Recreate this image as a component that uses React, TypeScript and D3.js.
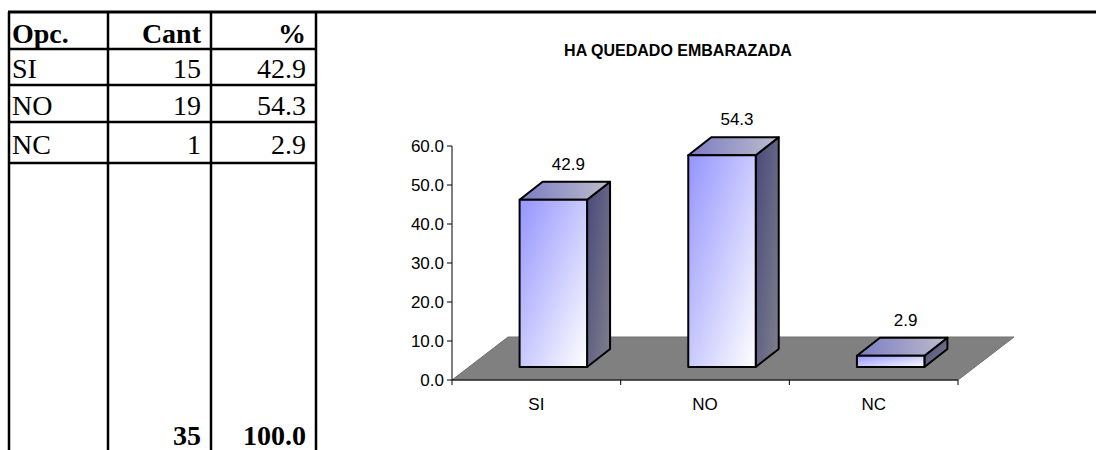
import React from 'react';
import * as d3 from 'd3';

const categories = ['SI', 'NO', 'NC'];
const counts = [15, 19, 1];
const percents = [42.9, 54.3, 2.9];
const totalCount = 35;
const totalPercent = 100.0;
const yTicks = [0, 10, 20, 30, 40, 50, 60];
const chartTitle = 'HA QUEDADO EMBARAZADA';

const W = 1096;
const H = 450;

// table geometry
const colX = [9, 108, 211, 316];
const rowY = [12, 49, 85, 122, 163];
const rowBase = [43, 78, 115, 154];

// chart geometry
const plotLeft = 452;
const plotRight = 958;
const plotBottom = 380;
const plotTop = 146;
const floorDepth = { dx: 56, dy: -43 };
const barShift = { dx: 17, dy: -13 };
const barDepth = { dx: 23, dy: -18 };

const serif = '"Liberation Serif", "Times New Roman", serif';
const sans = '"Liberation Sans", Arial, sans-serif';

export default function App() {
  const x = d3.scaleBand<string>().domain(categories).range([plotLeft, plotRight]).paddingInner(0).paddingOuter(0);
  const y = d3.scaleLinear().domain([0, 60]).range([plotBottom, plotTop]);
  const bw = x.bandwidth() * 0.4;

  const floor = [
    [plotLeft, plotBottom],
    [plotRight, plotBottom],
    [plotRight + floorDepth.dx, plotBottom + floorDepth.dy],
    [plotLeft + floorDepth.dx, plotBottom + floorDepth.dy],
  ];
  const line = d3.line();

  const tableRows = categories.map((c, i) => ({ c, n: counts[i], p: percents[i] }));
  const cantRight = colX[2] - 10;
  const pctRight = colX[3] - 10;

  return (
    <div style={{ position: 'absolute', left: 0, top: 0, width: W, height: H, background: '#fff' }}>
      <svg width={W} height={H} style={{ display: 'block' }}>
        <defs>
          <linearGradient id="front" x1="0" y1="0" x2="1" y2="1">
            <stop offset="0%" stopColor="#9494ff" />
            <stop offset="100%" stopColor="#ffffff" />
          </linearGradient>
          <linearGradient id="top" x1="0" y1="0" x2="1" y2="0">
            <stop offset="0%" stopColor="#7c7cc4" />
            <stop offset="100%" stopColor="#bcbccc" />
          </linearGradient>
          <linearGradient id="side" x1="0" y1="0" x2="1" y2="1">
            <stop offset="0%" stopColor="#48487c" />
            <stop offset="100%" stopColor="#80808c" />
          </linearGradient>
        </defs>

        {/* tabla */}
        <line x1={colX[0] - 1} x2={W} y1={rowY[0]} y2={rowY[0]} stroke="#000" strokeWidth={3} />
        {colX.map((cx) => (
          <line key={cx} x1={cx} x2={cx} y1={rowY[0]} y2={H} stroke="#000" strokeWidth={2.5} />
        ))}
        {rowY.slice(1).map((ry) => (
          <line key={ry} x1={colX[0]} x2={colX[3]} y1={ry} y2={ry} stroke="#000" strokeWidth={2.5} />
        ))}
        <g fontFamily={serif} fontSize={28} fill="#000">
          <text x={colX[0] + 3} y={rowBase[0]} fontWeight="bold">Opc.</text>
          <text x={cantRight} y={rowBase[0]} fontWeight="bold" textAnchor="end">Cant</text>
          <text x={pctRight} y={rowBase[0]} fontWeight="bold" textAnchor="end">%</text>
          {tableRows.map((r, i) => (
            <g key={r.c}>
              <text x={colX[0] + 3} y={rowBase[i + 1]}>{r.c}</text>
              <text x={cantRight} y={rowBase[i + 1]} textAnchor="end">{r.n}</text>
              <text x={pctRight} y={rowBase[i + 1]} textAnchor="end">{r.p.toFixed(1)}</text>
            </g>
          ))}
          <text x={cantRight} y={H - 5} fontWeight="bold" textAnchor="end">{totalCount}</text>
          <text x={pctRight} y={H - 5} fontWeight="bold" textAnchor="end">{totalPercent.toFixed(1)}</text>
        </g>

        {/* grafico */}
        <text x={678} y={56} textAnchor="middle" fontFamily={sans} fontWeight="bold" fontSize={16}>{chartTitle}</text>
        <path d={line(floor as [number, number][]) + 'Z'} fill="#808080" stroke="#707070" strokeWidth={1} />
        <line x1={plotLeft} x2={plotLeft} y1={plotTop} y2={plotBottom} stroke="#000" strokeWidth={1} />
        <line x1={plotLeft} x2={plotRight} y1={plotBottom} y2={plotBottom} stroke="#000" strokeWidth={1} />
        {yTicks.map((t) => (
          <g key={t}>
            <line x1={plotLeft - 5} x2={plotLeft} y1={y(t)} y2={y(t)} stroke="#000" />
            <text x={plotLeft - 8} y={y(t) + 6} textAnchor="end" fontFamily={sans} fontSize={17}>{t.toFixed(1)}</text>
          </g>
        ))}
        {[...categories.map((c) => x(c)!), plotRight].map((tx, i) => (
          <line key={i} x1={tx} x2={tx} y1={plotBottom} y2={plotBottom + 5} stroke="#000" />
        ))}
        {categories.map((c) => (
          <text key={c} x={x(c)! + x.bandwidth() / 2} y={plotBottom + 30} textAnchor="middle" fontFamily={sans} fontSize={17}>{c}</text>
        ))}

        {categories.map((c, i) => {
          const v = percents[i];
          const x0 = x(c)! + x.bandwidth() / 2 - bw / 2 + barShift.dx;
          const x1 = x0 + bw;
          const yb = plotBottom + barShift.dy;
          const yt = y(v) + barShift.dy;
          const { dx, dy } = barDepth;
          const front: [number, number][] = [[x0, yt], [x1, yt], [x1, yb], [x0, yb]];
          const topF: [number, number][] = [[x0, yt], [x0 + dx, yt + dy], [x1 + dx, yt + dy], [x1, yt]];
          const side: [number, number][] = [[x1, yt], [x1 + dx, yt + dy], [x1 + dx, yb + dy], [x1, yb]];
          return (
            <g key={c} stroke="#000" strokeWidth={2} strokeLinejoin="round">
              <path d={line(side) + 'Z'} fill="url(#side)" />
              <path d={line(topF) + 'Z'} fill="url(#top)" />
              <path d={line(front) + 'Z'} fill="url(#front)" />
              <text x={(x0 + x1) / 2 + 15} y={yt + dy - 12} textAnchor="middle" fontFamily={sans} fontSize={17} stroke="none" fill="#000">{v.toFixed(1)}</text>
            </g>
          );
        })}
      </svg>
    </div>
  );
}
